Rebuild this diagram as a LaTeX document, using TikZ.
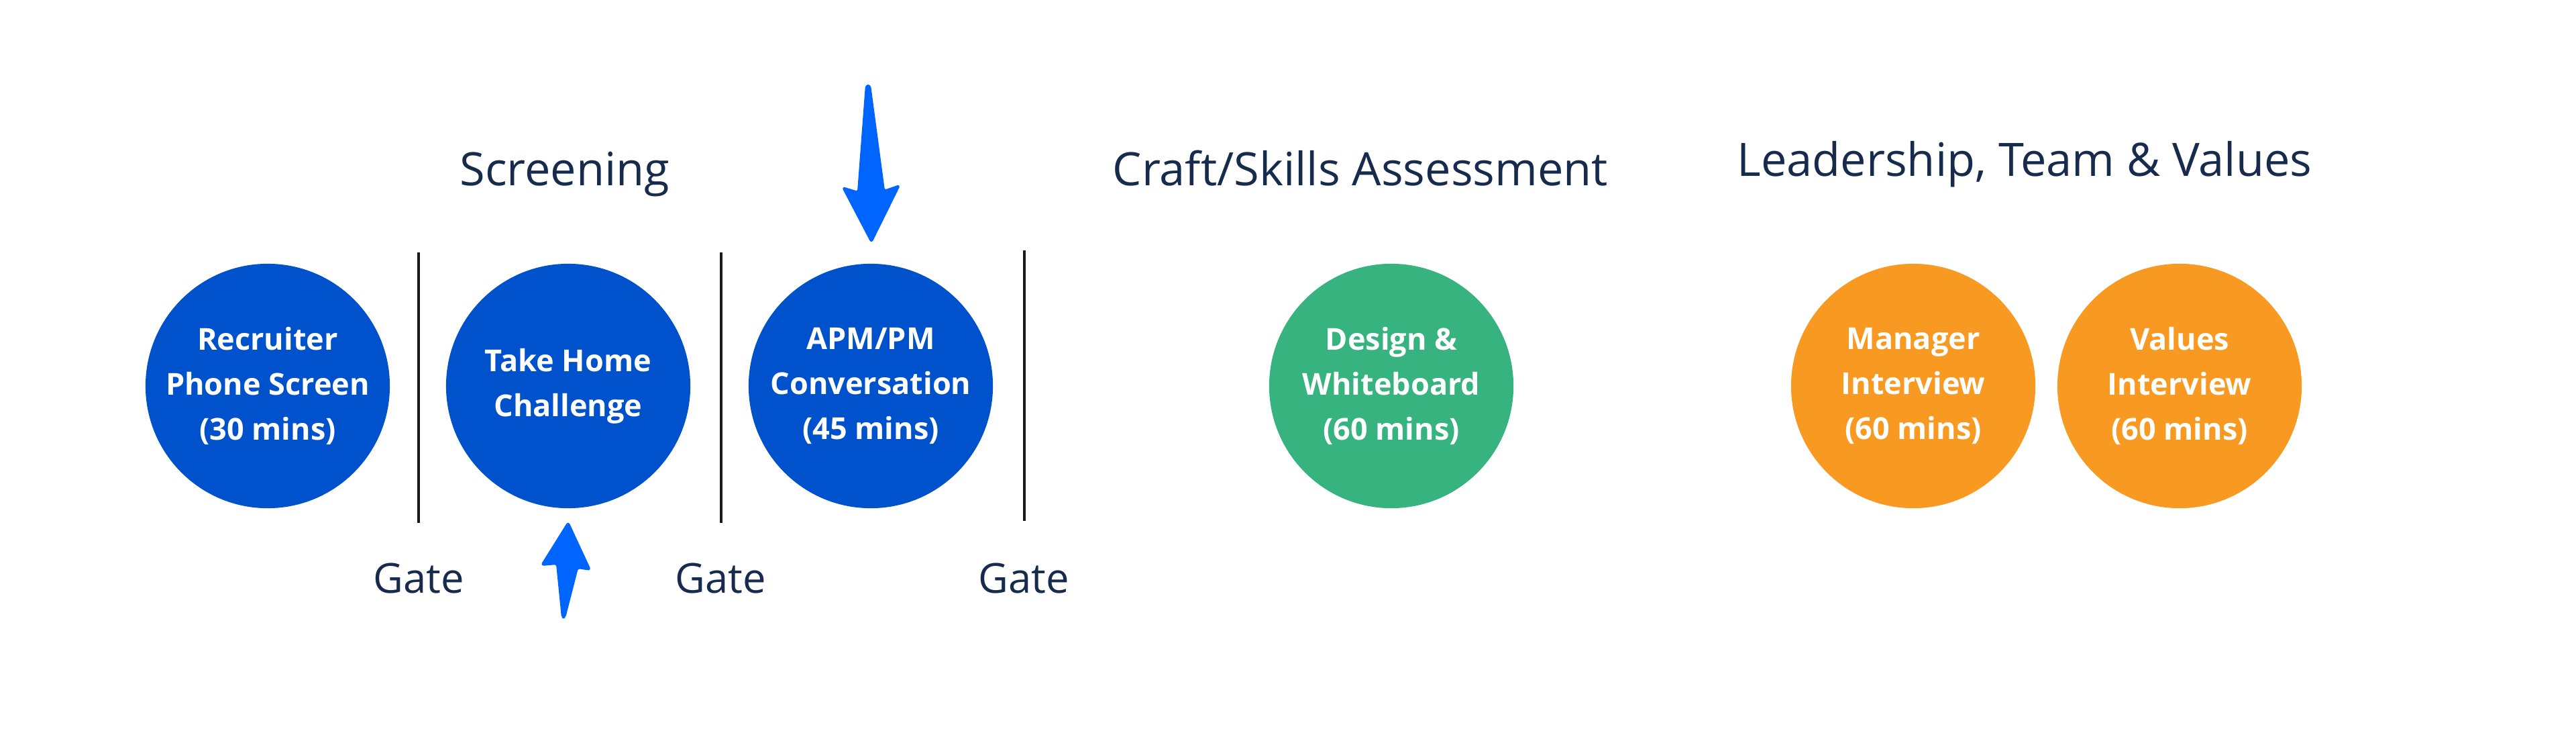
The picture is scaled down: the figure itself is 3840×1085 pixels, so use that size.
\documentclass[tikz,border=0pt]{standalone}
\usepackage{fontspec}
\setmainfont{Open Sans}
\definecolor{navy}{HTML}{172B4D}
\definecolor{cblue}{HTML}{0052CC}
\definecolor{cgreen}{HTML}{36B37E}
\definecolor{corange}{HTML}{F89A22}
\definecolor{arrowblue}{HTML}{0065FF}
\definecolor{gateline}{HTML}{1A1A1A}
\begin{document}
\begin{tikzpicture}[x=0.01cm,y=-0.01cm,
  stage/.style={circle, minimum size=3.64cm, inner sep=0pt, text=white, align=center,
    font=\fontsize{12.8pt}{19pt}\selectfont\bfseries},
  title/.style={anchor=base, text=navy, font=\fontsize{19.5pt}{24pt}\selectfont, inner sep=0pt},
  gatelbl/.style={anchor=base, text=navy, font=\fontsize{17.5pt}{21pt}\selectfont, inner sep=0pt},
  divider/.style={draw=gateline, line width=0.9pt},
  bigarrow/.style={fill=arrowblue, draw=arrowblue, line width=0.6pt, line join=round, rounded corners=1pt}
]
\useasboundingbox[fill=white] (0,0) rectangle (3840,1085);

% titles
\node[title] (t1) at (842,276) {Screening};
\node[title] (t2) at (2028,276) {Craft/Skills Assessment};
\node[title] (t3) at (3018,262) {Leadership, Team \& Values};

% stages
\node[stage, fill=cblue] (s1) at (399,575) {Recruiter\\Phone Screen\\(30 mins)};
\node[stage, fill=cblue] (s2) at (847,575) {Take Home\\Challenge};
\node[stage, fill=cblue] (s3) at (1298,575) {APM/PM\\Conversation\\(45 mins)};
\node[stage, fill=cgreen] (s4) at (2074,575) {Design \&\\Whiteboard\\(60 mins)};
\node[stage, fill=corange] (s5) at (2852,575) {Manager\\Interview\\(60 mins)};
\node[stage, fill=corange] (s6) at (3249,575) {Values\\Interview\\(60 mins)};

% gate dividers
\coordinate (g1t) at (624,376); \coordinate (g1b) at (624,779);
\coordinate (g2t) at (1075,376); \coordinate (g2b) at (1075,779);
\coordinate (g3t) at (1527,373); \coordinate (g3b) at (1527,776);
\draw[divider] (g1t) -- (g1b);
\draw[divider] (g2t) -- (g2b);
\draw[divider] (g3t) -- (g3b);
\node[gatelbl] (gate1) at (624,883) {Gate};
\node[gatelbl] (gate2) at (1074,883) {Gate};
\node[gatelbl] (gate3) at (1526,883) {Gate};

% arrows
\filldraw[bigarrow] (1291,127) -- (1297,127) -- (1318,284) -- (1341,276) -- (1299,361)
  -- (1256,279) -- (1279,286) -- cycle;
\filldraw[bigarrow] (838,920) -- (842,920) -- (861,846) -- (880,849) -- (847,778)
  -- (807,842) -- (830,840) -- cycle;
\end{tikzpicture}
\end{document}
